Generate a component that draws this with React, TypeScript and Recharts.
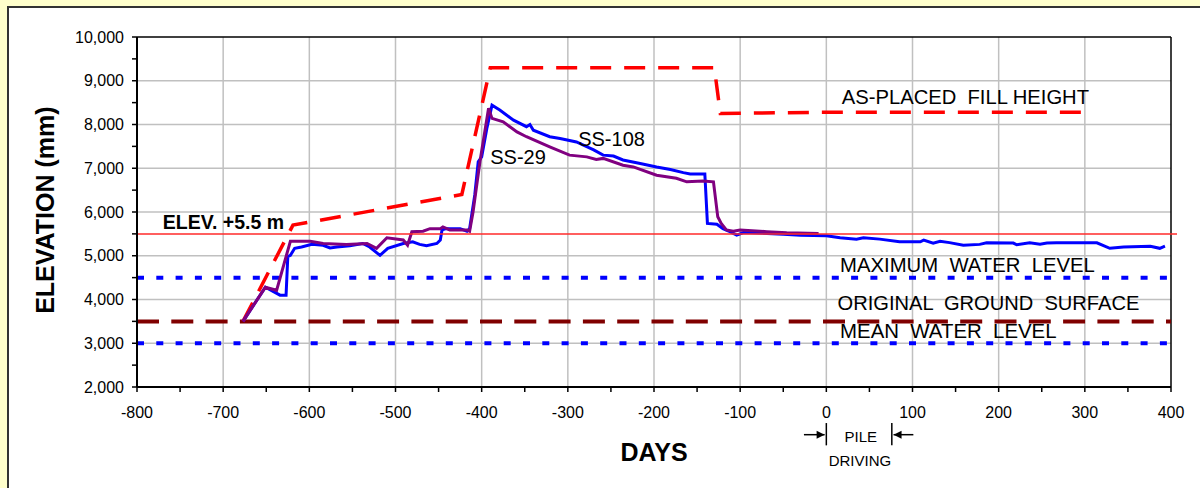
import React from 'react';
import { LineChart, Line, XAxis, YAxis, CartesianGrid, ReferenceLine, ReferenceDot } from 'recharts';

const FONT = 'Arial, "Liberation Sans", sans-serif';

// x axis: days, ticks every 50 (labels every 100)
const xTicks = [-800, -750, -700, -650, -600, -550, -500, -450, -400, -350, -300, -250, -200, -150, -100, -50, 0, 50, 100, 150, 200, 250, 300, 350, 400];
const xGrid = [-700, -600, -500, -400, -300, -200, -100, 0, 100, 200, 300];
// y axis: elevation in mm, ticks every 500 (labels every 1000)
const yTicks = [2000, 2500, 3000, 3500, 4000, 4500, 5000, 5500, 6000, 6500, 7000, 7500, 8000, 8500, 9000, 9500, 10000];
const yGrid = [3000, 4000, 5000, 6000, 7000, 8000, 9000];

// reference levels (mm)
const elev55 = 5500;
const maxWaterLevel = 4500;
const groundSurface = 3500;
const meanWaterLevel = 3000;

// [day, elevation mm]
const fillHeight = [
  [-677, 3500], [-619, 5700], [-423, 6400], [-390, 9300], [-130, 9300], [-123, 8250], [-9, 8280], [309, 8280],
];

const ss108 = [
  [-677, 3500], [-651, 4280], [-634, 4100], [-627, 4100], [-625, 4980], [-622, 5010], [-617, 5170], [-609, 5200],
  [-597, 5260], [-584, 5240], [-576, 5180], [-568, 5200], [-553, 5230], [-538, 5280], [-530, 5200], [-518, 5010],
  [-509, 5170], [-491, 5280], [-480, 5320], [-472, 5260], [-464, 5230], [-452, 5280], [-448, 5360], [-446, 5590],
  [-441, 5620], [-425, 5620], [-417, 5560], [-414, 5620], [-408, 6390], [-404, 7150], [-400, 7260], [-394, 7910],
  [-388, 8440], [-379, 8330], [-363, 8100], [-348, 7950], [-344, 8000], [-340, 7870], [-321, 7720], [-309, 7680],
  [-290, 7600], [-270, 7420], [-259, 7300], [-247, 7280], [-236, 7190], [-216, 7110], [-197, 7030], [-181, 6970],
  [-166, 6900], [-158, 6870], [-141, 6870], [-138, 5740], [-127, 5720], [-120, 5620], [-112, 5550], [-108, 5510],
  [-104, 5470], [-96, 5530], [-69, 5510], [-50, 5490], [-30, 5470], [0, 5455], [16, 5410], [35, 5380], [43, 5410],
  [62, 5380], [85, 5320], [109, 5320], [113, 5356], [124, 5285], [132, 5330], [143, 5300], [159, 5240], [178, 5260],
  [186, 5295], [217, 5290], [221, 5250], [236, 5295], [248, 5265], [256, 5290], [267, 5295], [314, 5295], [329, 5170],
  [345, 5200], [376, 5218], [387, 5170], [393, 5218],
];

const ss29 = [
  [-677, 3500], [-651, 4280], [-638, 4210], [-622, 5330], [-599, 5330], [-584, 5280], [-557, 5260], [-533, 5280],
  [-522, 5170], [-510, 5410], [-491, 5360], [-486, 5240], [-481, 5550], [-468, 5560], [-460, 5620], [-448, 5620],
  [-445, 5660], [-437, 5590], [-417, 5590], [-414, 5560], [-410, 6000], [-402, 7150], [-392, 8370], [-388, 8140],
  [-375, 8060], [-359, 7830], [-348, 7720], [-321, 7490], [-298, 7300], [-278, 7260], [-267, 7200], [-259, 7225],
  [-236, 7070], [-224, 7030], [-197, 6840], [-174, 6770], [-162, 6690], [-143, 6710], [-131, 6690], [-126, 5890],
  [-122, 5740], [-116, 5590], [-108, 5560], [-100, 5590], [-69, 5550], [-46, 5525], [-9, 5510],
];

// pile driving period (days)
const pileStart = 0;
const pileEnd = 76;

// text annotations anchored at [day, mm]
const notes = [
  { text: 'AS-PLACED  FILL HEIGHT', x: 18, y: 8627, size: 20.2, weight: 'normal', anchor: 'start' },
  { text: 'SS-108', x: -288, y: 7666, size: 20, weight: 'normal', anchor: 'start' },
  { text: 'SS-29', x: -390, y: 7255, size: 20, weight: 'normal', anchor: 'start' },
  { text: 'ELEV. +5.5 m', x: -770, y: 5768, size: 19.5, weight: 'bold', anchor: 'start' },
  { text: 'MAXIMUM  WATER  LEVEL', x: 16, y: 4784, size: 20.3, weight: 'normal', anchor: 'start' },
  { text: 'ORIGINAL  GROUND  SURFACE', x: 13, y: 3914, size: 20.1, weight: 'normal', anchor: 'start' },
  { text: 'MEAN  WATER  LEVEL', x: 16, y: 3274, size: 20.4, weight: 'normal', anchor: 'start' },
  { text: 'PILE', x: 40, y: 856, size: 15, weight: 'normal', anchor: 'middle' },
  { text: 'DRIVING', x: 39, y: 322, size: 15, weight: 'normal', anchor: 'middle' },
  { text: 'DAYS', x: -200, y: 505, size: 25, weight: 'bold', anchor: 'middle' },
];

const toPoints = (rows: number[][]) => rows.map(([day, mm]) => ({ day, mm }));

const textShape = (n: any, rotate = false) => (p: any) => (
  <text
    x={p.cx}
    y={p.cy}
    dy="0.35em"
    fontSize={n.size}
    fontWeight={n.weight}
    textAnchor={n.anchor}
    fontFamily={FONT}
    fill="#000"
    style={{ whiteSpace: 'pre' }}
    transform={rotate ? `rotate(-90 ${p.cx} ${p.cy})` : undefined}
  >
    {n.text}
  </text>
);

const arrowShape = (p: any) => {
  const { x1, y1, x2, y2 } = p;
  const dir = x2 > x1 ? 1 : -1;
  return (
    <g>
      <line x1={x1} y1={y1} x2={x2} y2={y2} stroke="#000" strokeWidth={1.5} />
      <polygon points={`${x2},${y2} ${x2 - dir * 8},${y2 - 4} ${x2 - dir * 8},${y2 + 4}`} fill="#000" />
    </g>
  );
};

const tickStyle = { fill: '#000', fontSize: 16, fontFamily: FONT };

export default function App() {
  return (
    <div style={{ position: 'fixed', left: 0, top: 0, width: 1200, height: 488, background: '#FFFFCC', overflow: 'hidden' }}>
      <div
        style={{
          position: 'absolute', left: 7, top: 6, width: 1220, height: 520, background: '#fff',
          borderTop: '2px solid #333', borderLeft: '2px solid #333',
        }}
      />
      <div style={{ position: 'absolute', left: 0, top: 0 }}>
        <LineChart width={1200} height={488} margin={{ top: 37, right: 29, bottom: 71, left: 67 }}>
          <CartesianGrid stroke="#c0c0c0" strokeWidth={1.5} horizontalValues={yGrid} verticalValues={xGrid} />
          <XAxis
            type="number"
            dataKey="day"
            domain={[-800, 400]}
            allowDataOverflow
            ticks={xTicks}
            interval={0}
            tickFormatter={(v: number) => (v % 100 === 0 ? String(v) : '')}
            tick={tickStyle}
            tickSize={5}
            tickMargin={15}
            height={30}
            axisLine={{ stroke: '#000', strokeWidth: 2 }}
            tickLine={{ stroke: '#000', strokeWidth: 1.5 }}
          />
          <YAxis
            type="number"
            dataKey="mm"
            domain={[2000, 10000]}
            allowDataOverflow
            ticks={yTicks}
            interval={0}
            tickFormatter={(v: number) => (v % 1000 === 0 ? v.toLocaleString('en-US') : '')}
            tick={tickStyle}
            tickSize={5}
            tickMargin={8}
            width={70}
            axisLine={{ stroke: '#000', strokeWidth: 2 }}
            tickLine={{ stroke: '#000', strokeWidth: 1.5 }}
          />
          <ReferenceLine y={10000} stroke="#000" strokeWidth={1.5} />
          <ReferenceLine x={400} stroke="#000" strokeWidth={1.5} />

          <ReferenceLine y={maxWaterLevel} stroke="#0000ff" strokeWidth={4} strokeDasharray="7 12.3" />
          <ReferenceLine y={meanWaterLevel} stroke="#0000ff" strokeWidth={4} strokeDasharray="7 12.3" />
          <ReferenceLine y={groundSurface} stroke="#800000" strokeWidth={4} strokeDasharray="22 12.3" />

          <Line
            data={toPoints(fillHeight)}
            dataKey="mm"
            stroke="#ff0000"
            strokeWidth={3.5}
            strokeDasharray="21 13"
            dot={false}
            isAnimationActive={false}
          />
          <Line data={toPoints(ss108)} dataKey="mm" stroke="#0000ff" strokeWidth={3} dot={false} isAnimationActive={false} />
          <Line data={toPoints(ss29)} dataKey="mm" stroke="#800080" strokeWidth={3} dot={false} isAnimationActive={false} />

          <ReferenceLine
            segment={[{ x: -800, y: elev55 }, { x: 407, y: elev55 }]}
            ifOverflow="visible"
            stroke="#ff2a2a"
            strokeWidth={1.5}
          />

          {notes.map((n) => (
            <ReferenceDot key={n.text} x={n.x} y={n.y} r={0} ifOverflow="visible" shape={textShape(n)} />
          ))}
          <ReferenceDot
            x={-907}
            y={6042}
            r={0}
            ifOverflow="visible"
            shape={textShape({ text: 'ELEVATION (mm)', size: 25, weight: 'bold', anchor: 'middle' }, true)}
          />

          {/* pile driving markers */}
          <ReferenceLine segment={[{ x: pileStart, y: 1176 }, { x: pileStart, y: 666 }]} ifOverflow="visible" stroke="#000" strokeWidth={1.5} />
          <ReferenceLine segment={[{ x: pileEnd, y: 1176 }, { x: pileEnd, y: 666 }]} ifOverflow="visible" stroke="#000" strokeWidth={1.5} />
          <ReferenceLine segment={[{ x: pileStart - 26, y: 910 }, { x: pileStart - 2, y: 910 }]} ifOverflow="visible" shape={arrowShape} />
          <ReferenceLine segment={[{ x: pileEnd + 25, y: 910 }, { x: pileEnd + 2, y: 910 }]} ifOverflow="visible" shape={arrowShape} />
        </LineChart>
      </div>
    </div>
  );
}
